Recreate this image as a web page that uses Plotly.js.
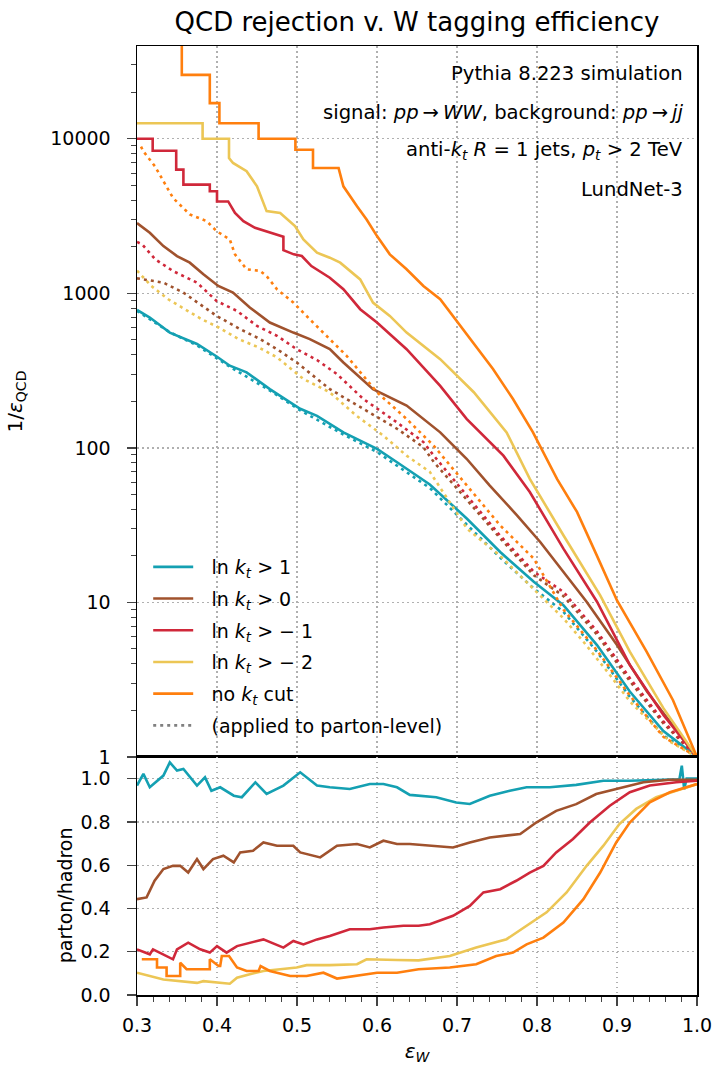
<!DOCTYPE html>
<html>
<head>
<meta charset="utf-8">
<script src="https://cdn.plot.ly/plotly-3.0.1.min.js"></script>
<style>html,body{margin:0;padding:0;background:#fff;}#chart{width:712px;height:1066px;}</style>
</head>
<body>
<div id="chart"></div>
<script>
// ---------- data: top panel, 1/eps_QCD vs eps_W (hadron level, solid) ----------
const kt1_x   = [0.3,0.316,0.341,0.375,0.3996,0.416,0.437,0.466,0.504,0.525,0.558,0.6,0.6246,0.666,0.7125,0.754,0.796,0.833,0.875,0.916,0.958,1.0];
const kt1_y   = [780,697,557,470,390,340,308,240,179,161,126,98.6,81,58,34.8,21.2,13.6,9.6,5.3,2.65,1.47,1.0];
const kt0_x   = [0.3,0.316,0.333,0.35,0.366,0.383,0.4016,0.42,0.441,0.466,0.4954,0.516,0.541,0.558,0.595,0.637,0.679,0.712,0.741,0.775,0.804,0.833,0.862,0.9,0.9375,0.975,1.0];
const kt0_y   = [2850,2464,2020,1742,1578,1327,1115,1010,809,647,557,505,435,357,240,188,126,85,57,36.6,24.6,15.8,10.1,5.3,2.65,1.47,1.0];
const ktm1_x  = [0.3,0.3196,0.3196,0.349,0.349,0.358,0.358,0.391,0.391,0.40,0.40,0.414,0.4225,0.433,0.4475,0.483,0.483,0.496,0.506,0.518,0.541,0.558,0.579,0.6,0.637,0.679,0.712,0.758,0.791,0.833,0.875,0.916,0.958,1.0];
const ktm1_y  = [10000,10000,8370,8370,6310,6310,5050,5050,4570,4570,3930,3930,3310,2930,2655,2322,1900,1786,1742,1500,1262,1062,789,647,435,252,154,89,51.8,22.3,10.1,3.94,1.87,1.0];
const ktm2_x  = [0.3,0.382,0.382,0.415,0.415,0.42,0.437,0.45,0.462,0.479,0.4975,0.508,0.525,0.541,0.554,0.579,0.595,0.616,0.637,0.679,0.721,0.762,0.791,0.833,0.879,0.916,0.958,1.0];
const ktm2_y  = [12600,12600,10000,10000,7500,6970,6160,4920,3400,3310,2720,2230,1830,1700,1578,1230,871,714,557,375,229,126,63,27.2,11.1,4.8,2.07,1.0];
const nocut_x = [0.356,0.356,0.391,0.391,0.403,0.403,0.452,0.452,0.498,0.498,0.52,0.52,0.552,0.558,0.575,0.587,0.6,0.616,0.637,0.658,0.679,0.7,0.72,0.745,0.77,0.795,0.825,0.85,0.875,0.9,0.937,0.97,1.0];
const nocut_y = [60000,25900,25900,17000,17000,12600,12600,10000,10000,8490,8490,6460,6460,4920,3660,3000,2345,1786,1430,1115,915,660,481,324,207,126,63,38.5,20,10.3,4.8,2.33,1.0];

// ---------- data: top panel, cut applied to parton level (dotted) ----------
const kt1p_x   = [0.3,0.341,0.375,0.416,0.466,0.504,0.558,0.6,0.666,0.7125,0.754,0.796,0.833,0.875,0.916,0.958,1.0];
const kt1p_y   = [770,560,460,335,235,175,122,94,55,32,19.5,12.3,8.7,4.8,2.45,1.38,1.0];
const kt0p_x   = [0.3,0.333,0.358,0.379,0.3996,0.429,0.454,0.475,0.4996,0.541,0.583,0.625,0.658,0.671,0.7125,0.754,0.796,0.833,0.875,0.916,0.958,1.0];
const kt0p_y   = [1250,1172,1010,849,714,586,505,435,357,240,179,133,101,81,46,26,15,11,6.2,3.1,1.65,1.0];
const ktm1p_x  = [0.3,0.3066,0.323,0.345,0.375,0.3996,0.425,0.45,0.475,0.4996,0.525,0.55,0.583,0.625,0.658,0.671,0.7125,0.754,0.796,0.833,0.875,0.916,0.958,1.0];
const ktm1p_y  = [2150,2070,1656,1393,1172,891,769,615,531,435,370,300,207,146,109,89,49,27,15.8,11.7,6.5,3.24,1.7,1.0];
const ktm2p_x  = [0.3,0.318,0.339,0.36,0.381,0.402,0.427,0.452,0.475,0.508,0.541,0.5746,0.608,0.637,0.666,0.7125,0.754,0.791,0.808,0.833,0.858,0.891,0.916,0.941,0.966,0.987,1.0];
const ktm2p_y  = [1400,1115,915,788,679,601,505,447,385,279,229,161,120,89,70,30,20,12.9,10.6,7.9,5.57,3.4,2.29,1.7,1.26,1.09,1.0];
const nocutp_x = [0.305,0.308,0.3225,0.333,0.345,0.366,0.387,0.3996,0.416,0.4225,0.437,0.454,0.462,0.475,0.4954,0.516,0.537,0.562,0.6,0.637,0.671,0.7125,0.754,0.796,0.833,0.875,0.916,0.958,1.0];
const nocutp_y = [8900,8280,6630,5310,4140,3240,2930,2525,2230,1785,1430,1395,1293,1062,871,679,531,394,229,154,103,57,31.5,19.2,9.0,4.9,2.5,1.35,1.0];

// ---------- data: bottom panel, parton/hadron ratio ----------
const r_kt1_x = [0.3,0.308,0.316,0.333,0.341,0.35,0.358,0.375,0.385,0.393,0.404,0.421,0.431,0.448,0.462,0.483,0.504,0.525,0.541,0.566,0.591,0.608,0.625,0.641,0.674,0.699,0.716,0.741,0.766,0.787,0.816,0.849,0.883,0.916,0.958,0.978,0.981,0.984,0.987,1.0];
const r_kt1_y = [0.968,1.022,0.96,1.014,1.075,1.037,1.045,0.968,1.006,0.944,0.96,0.921,0.914,0.983,0.929,0.968,1.029,0.968,0.96,0.952,0.975,0.975,0.96,0.925,0.914,0.89,0.883,0.921,0.944,0.96,0.96,0.971,0.99,0.99,0.995,0.997,1.06,0.95,1.0,1.0];
const r_kt0_x = [0.3,0.312,0.322,0.333,0.345,0.354,0.364,0.375,0.383,0.395,0.408,0.421,0.429,0.445,0.458,0.475,0.4954,0.504,0.529,0.55,0.575,0.591,0.608,0.625,0.641,0.666,0.695,0.716,0.741,0.779,0.799,0.824,0.849,0.874,0.899,0.933,0.966,1.0];
const r_kt0_y = [0.443,0.451,0.528,0.582,0.597,0.597,0.566,0.628,0.582,0.628,0.644,0.613,0.659,0.667,0.705,0.69,0.69,0.659,0.636,0.69,0.698,0.682,0.713,0.698,0.698,0.69,0.682,0.705,0.728,0.744,0.797,0.851,0.882,0.929,0.952,0.983,0.995,0.995];
const r_ktm1_x = [0.3,0.316,0.32,0.345,0.35,0.364,0.379,0.391,0.4,0.412,0.425,0.441,0.458,0.483,0.4954,0.508,0.525,0.541,0.566,0.591,0.608,0.633,0.652,0.666,0.695,0.716,0.733,0.754,0.774,0.791,0.808,0.824,0.845,0.866,0.891,0.916,0.941,0.974,1.0];
const r_ktm1_y = [0.211,0.188,0.211,0.165,0.211,0.242,0.211,0.196,0.226,0.196,0.226,0.242,0.257,0.219,0.25,0.234,0.257,0.273,0.304,0.304,0.312,0.32,0.32,0.327,0.366,0.412,0.474,0.489,0.528,0.566,0.597,0.659,0.721,0.797,0.875,0.937,0.968,0.983,0.99];
const r_ktm2_x = [0.3,0.333,0.375,0.383,0.416,0.425,0.441,0.458,0.479,0.4996,0.512,0.541,0.575,0.587,0.625,0.652,0.691,0.724,0.762,0.787,0.812,0.837,0.862,0.883,0.903,0.924,0.949,0.974,1.0];
const r_ktm2_y = [0.103,0.072,0.056,0.064,0.052,0.08,0.096,0.111,0.119,0.127,0.138,0.138,0.142,0.165,0.162,0.16,0.18,0.219,0.258,0.32,0.382,0.474,0.597,0.69,0.79,0.86,0.914,0.944,0.975];
const r_nocut_x = [0.306,0.325,0.325,0.337,0.337,0.354,0.354,0.362,0.391,0.391,0.402,0.404,0.406,0.415,0.425,0.437,0.452,0.4545,0.466,0.4915,0.512,0.533,0.55,0.575,0.6,0.625,0.652,0.691,0.724,0.749,0.77,0.787,0.808,0.833,0.858,0.879,0.899,0.916,0.941,0.966,1.0];
const r_nocut_y = [0.165,0.165,0.127,0.127,0.088,0.088,0.149,0.119,0.119,0.165,0.134,0.134,0.18,0.18,0.127,0.111,0.111,0.134,0.111,0.088,0.088,0.103,0.076,0.088,0.103,0.103,0.119,0.127,0.142,0.18,0.196,0.234,0.265,0.335,0.443,0.566,0.705,0.797,0.89,0.937,0.975];

// ---------- labels ----------
const GAP = '\u2002\u2009';
const seriesNames = ['ln <i>k</i><sub><i>t</i></sub> > 1','ln <i>k</i><sub><i>t</i></sub> > 0','ln <i>k</i><sub><i>t</i></sub> > − 1','ln <i>k</i><sub><i>t</i></sub> > − 2','no <i>k</i><sub><i>t</i></sub> cut'];
const partonLabel = '(applied to parton-level)';
const yTickVals = [1,10,100,1000,10000];
const yTickText = ['1','10','100','1000','10000'];
const ratioTicks = [0.0,0.2,0.4,0.6,0.8,1.0];
const xTicks = [0.3,0.4,0.5,0.6,0.7,0.8,0.9,1.0];
const infoLines = ['Pythia 8.223 simulation',
  'signal: <i>pp</i>\u2009→\u2009<i>WW</i>, background: <i>pp</i>\u2009→\u2009<i>jj</i>',
  'anti-<i>k</i><sub><i>t</i></sub> <i>R</i> = 1 jets, <i>p</i><sub><i>t</i></sub> > 2 TeV',
  'LundNet-3'];

const colors = ['#14a0b2','#a0522d','#d0283a','#ecc655','#ff7f0e'];
const LW = 2.6;
const hadX = [kt1_x,kt0_x,ktm1_x,ktm2_x,nocut_x];
const hadY = [kt1_y,kt0_y,ktm1_y,ktm2_y,nocut_y];
const parX = [kt1p_x,kt0p_x,ktm1p_x,ktm2p_x,nocutp_x];
const parY = [kt1p_y,kt0p_y,ktm1p_y,ktm2p_y,nocutp_y];
const ratX = [r_kt1_x,r_kt0_x,r_ktm1_x,r_ktm2_x,r_nocut_x];
const ratY = [r_kt1_y,r_kt0_y,r_ktm1_y,r_ktm2_y,r_nocut_y];

const traces = [];
for (let i=0;i<5;i++){
  traces.push({x:hadX[i],y:hadY[i],xaxis:'x',yaxis:'y',mode:'lines',name:GAP+seriesNames[i],
    legendgroup:'g'+i,line:{color:colors[i],width:LW},hoverinfo:'skip'});
  traces.push({x:parX[i],y:parY[i],xaxis:'x',yaxis:'y',mode:'lines',showlegend:false,
    line:{color:colors[i],width:LW,dash:'3px,4px'},hoverinfo:'skip'});
}
traces.push({x:[null],y:[null],xaxis:'x',yaxis:'y',mode:'lines',name:GAP+partonLabel,legendgroup:'g5',
  line:{color:'#808080',width:LW,dash:'3px,4px'}});
for (let i=0;i<5;i++){
  traces.push({x:ratX[i],y:ratY[i],xaxis:'x2',yaxis:'y2',mode:'lines',showlegend:false,
    line:{color:colors[i],width:LW},hoverinfo:'skip'});
}

const FONT = 'DejaVu Sans, Liberation Sans, sans-serif';
const grid = {showgrid:true,gridcolor:'#b0b0b0',gridwidth:1.3,griddash:'1.5px,3.5px'};
const frame = {showline:true,linecolor:'#000',linewidth:1.5,mirror:true,zeroline:false};

const ann = infoLines.map((t,k)=>({text:t,xref:'paper',yref:'paper',x:0.978,y:[0.9705,0.9294,0.8894,0.8483][k],
  xanchor:'right',yanchor:'middle',showarrow:false,font:{family:FONT,size:19.6,color:'#000'}}));
ann.push({text:'parton/hadron',xref:'paper',yref:'paper',x:-0.128,y:(1066-71-895)/949,textangle:-90,
  xanchor:'center',yanchor:'middle',showarrow:false,font:{family:FONT,size:19,color:'#000'}});

const layout = {
  width:712,height:1066,
  margin:{l:137,r:15,t:46,b:71},
  paper_bgcolor:'#fff',plot_bgcolor:'#fff',
  font:{family:FONT,color:'#000'},
  title:{text:'QCD rejection v. W tagging efficiency',font:{family:FONT,size:26,color:'#000'},
    x:0.5,xref:'paper',xanchor:'center',y:0.979,yref:'container',yanchor:'middle'},
  showlegend:true,
  legend:{x:0.02,y:0.471,xanchor:'left',yanchor:'top',bgcolor:'rgba(0,0,0,0)',itemwidth:40,
    font:{family:FONT,size:19,color:'#000'},tracegroupgap:4,traceorder:'grouped'},
  xaxis:Object.assign({domain:[0,1],range:[0.3,1.0],anchor:'y',showticklabels:false,ticks:'',
    tickvals:xTicks},grid,frame),
  yaxis:Object.assign({domain:[0.2508,1],type:'log',range:[0,4.6],anchor:'x',
    tickmode:'array',tickvals:yTickVals,ticktext:yTickText,ticks:'outside',ticklen:9,tickwidth:1.3,
    ticklabelstandoff:12,tickfont:{family:FONT,size:19,color:'#000'},
    minor:{tickmode:'array',tickvals:[2,3,4,5,6,7,8,9,20,30,40,50,60,70,80,90,200,300,400,500,600,700,800,900,2000,3000,4000,5000,6000,7000,8000,9000,20000,30000],ticks:'outside',ticklen:5,tickwidth:1,showgrid:false},
    title:{text:'1/<i>ε</i><sub>QCD</sub>',font:{family:FONT,size:20,color:'#000'},standoff:22}},grid,frame),
  xaxis2:Object.assign({domain:[0,1],range:[0.3,1.0],anchor:'y2',matches:'x',
    tickmode:'array',tickvals:xTicks,ticktext:xTicks.map(v=>v.toFixed(1)),ticks:'outside',ticklen:9,tickwidth:1.3,
    ticklabelstandoff:4,ticklabeloverflow:'allow',tickfont:{family:FONT,size:19,color:'#000'},
    minor:{dtick:0.02,tick0:0.3,ticks:'outside',ticklen:5,tickwidth:1,showgrid:false},
    title:{text:'<i>ε</i><sub><i>W</i></sub>',font:{family:FONT,size:20,color:'#000'},standoff:8}},grid,frame),
  yaxis2:Object.assign({domain:[0,0.2508],range:[0,1.1],anchor:'x2',
    tickmode:'array',tickvals:ratioTicks,ticktext:ratioTicks.map(v=>v.toFixed(1)),ticks:'outside',ticklen:9,tickwidth:1.3,
    ticklabelstandoff:12,tickfont:{family:FONT,size:19,color:'#000'}},grid,frame),
  annotations:ann
};

Plotly.newPlot('chart',traces,layout,{staticPlot:true,displayModeBar:false});
</script>
</body>
</html>
